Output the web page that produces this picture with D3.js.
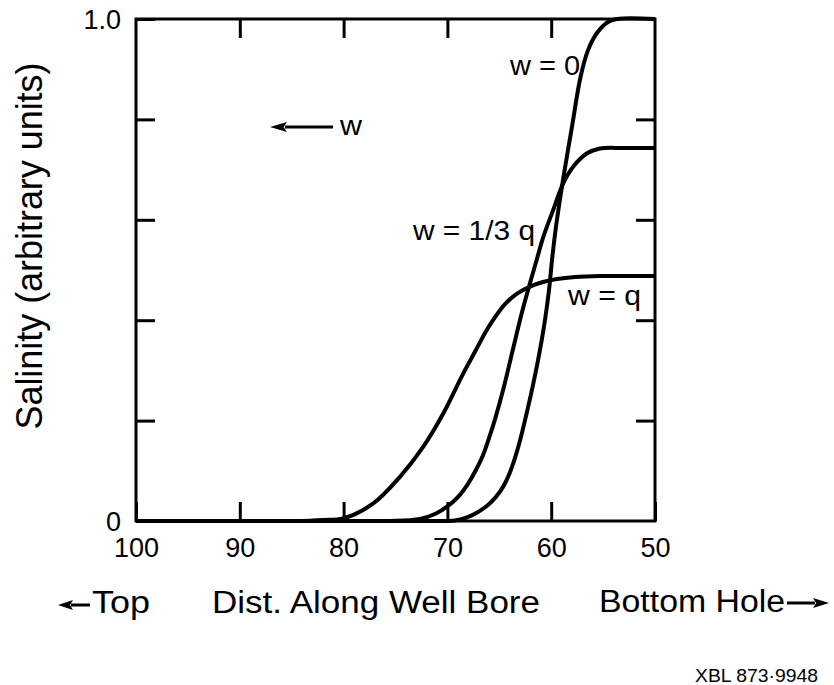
<!DOCTYPE html>
<html>
<head>
<meta charset="utf-8">
<script src="https://cdn.jsdelivr.net/npm/d3@7"></script>
<style>
    body { margin: 0; background: #fff; }
    svg text { font-family: "Liberation Sans", Arial, Helvetica, sans-serif; fill: #000; }
</style>
</head>
<body>
<div id="chart"></div>
<script>
//Datos: distancia a lo largo del pozo y salinidad
const distW0 = [100, 80, 73, 70.04, 69.27, 68.11, 67.05, 66.09, 65.32, 64.64, 64.07, 63.58, 63.1, 62.52, 61.72, 61.08, 60.6, 60.21, 59.92, 59.54, 58.82, 58.0, 57.18, 56.45, 55.59, 54.53, 53.66, 50];
const salW0 = [0, 0, 0, 0, 0.001, 0.007, 0.018, 0.032, 0.048, 0.068, 0.092, 0.12, 0.153, 0.201, 0.274, 0.341, 0.4, 0.46, 0.52, 0.586, 0.685, 0.785, 0.884, 0.938, 0.972, 0.994, 1.0, 1.0];

const distW13 = [100, 82, 77.5, 75.53, 72.64, 71.1, 69.94, 68.88, 68.02, 67.24, 66.57, 65.99, 65.41, 64.61, 63.65, 62.84, 62.04, 61.4, 60.76, 59.8, 58.83, 57.87, 56.58, 55.3, 53, 50];
const salW13 = [0, 0, 0, 0, 0.004, 0.015, 0.03, 0.05, 0.074, 0.102, 0.131, 0.165, 0.203, 0.263, 0.345, 0.414, 0.474, 0.52, 0.566, 0.62, 0.673, 0.706, 0.732, 0.742, 0.743, 0.743];

const distWq = [100, 88, 84.2, 82, 80.03, 77.14, 74.57, 72.32, 70.4, 68.47, 67.24, 66.28, 65.41, 64.45, 63.29, 62.04, 60.79, 59.44, 57.7, 55.3, 50];
const salWq = [0, 0, 0, 0.002, 0.005, 0.035, 0.088, 0.148, 0.214, 0.294, 0.341, 0.378, 0.406, 0.432, 0.453, 0.467, 0.476, 0.482, 0.486, 0.488, 0.488];

const xTicks = [100, 90, 80, 70, 60, 50];
const xTopTicks = [90, 80, 70, 60];
const yTicks = [0, 0.2, 0.4, 0.6, 0.8, 1];
const yTickLabels = ['0', '', '', '', '', '1.0'];
const yRightTicks = [0.2, 0.4, 0.6, 0.8];

const FONT = '"Liberation Sans", Arial, Helvetica, sans-serif';

let margin = {top: 19, right: 179, bottom: 164, left: 136},
    width = 834 - margin.left - margin.right,
    height = 685 - margin.top - margin.bottom;

let root = d3.select('#chart')
    .append('svg')
    .attr('width', 834)
    .attr('height', 685);

root.append('rect').attr('width', 834).attr('height', 685).attr('fill', '#fff');

let svg = root.append('g')
    .attr('transform', 'translate(' + margin.left + ',' + margin.top + ')');

let x = d3.scaleLinear().domain([100, 50]).range([0, width]);
let y = d3.scaleLinear().domain([0, 1]).range([height, 0]);

//Ejes (marcas hacia dentro)
function styleAxis(g) {
    g.select('.domain').remove();
    g.selectAll('.tick line').attr('stroke-width', 3);
    g.attr('font-size', 27).attr('font-family', FONT);
}

svg.append('g')
    .attr('transform', 'translate(0,' + height + ')')
    .call(d3.axisBottom(x).tickValues(xTicks).tickSize(-19).tickPadding(17).tickFormat(d3.format('d')))
    .call(styleAxis);

svg.append('g')
    .call(d3.axisLeft(y).tickValues(yTicks).tickSize(-19).tickPadding(15)
        .tickFormat(function(d, i) { return yTickLabels[i]; }))
    .call(styleAxis)
    .call(function(g) { g.selectAll('.tick text').attr('dy', '0.36em'); });

svg.append('g')
    .call(d3.axisTop(x).tickValues(xTopTicks).tickSize(-19).tickFormat(''))
    .call(styleAxis);

svg.append('g')
    .attr('transform', 'translate(' + width + ',0)')
    .call(d3.axisRight(y).tickValues(yRightTicks).tickSize(-19).tickFormat(''))
    .call(styleAxis);

//Marco
svg.append('rect')
    .attr('x', 0).attr('y', 0)
    .attr('width', width).attr('height', height)
    .attr('fill', 'none')
    .attr('stroke', '#000')
    .attr('stroke-width', 3);

//Curvas
let series = [
    {dist: distW0, sal: salW0},
    {dist: distW13, sal: salW13},
    {dist: distWq, sal: salWq}
];

let line = d3.line()
    .x(function(d) { return x(d[0]); })
    .y(function(d) { return y(d[1]); })
    .curve(d3.curveCatmullRom.alpha(0.5));

series.forEach(function(s) {
    let pts = s.dist.map(function(d, i) { return [d, s.sal[i]]; });
    svg.append('path')
        .datum(pts)
        .attr('d', line)
        .attr('fill', 'none')
        .attr('stroke', '#000')
        .attr('stroke-width', 4)
        .attr('stroke-linejoin', 'round');
});

//Etiquetas de las curvas
function label(text, tx, ty, len, size) {
    root.append('text')
        .attr('x', tx).attr('y', ty)
        .attr('font-size', size)
        .attr('textLength', len)
        .attr('lengthAdjust', 'spacingAndGlyphs')
        .text(text);
}

label('w = 0', 510, 75, 70, 28);
label('w = 1/3 q', 413, 240, 122, 28);
label('w = q', 568, 305, 73, 28);
label('w', 340, 135, 22, 28);

//Flechas
function arrow(x1, x2, yy, headLen, halfH) {
    //x1 = punta, x2 = cola
    let dir = x2 > x1 ? 1 : -1;
    root.append('line')
        .attr('x1', x1 + dir * (headLen - 2)).attr('x2', x2)
        .attr('y1', yy).attr('y2', yy)
        .attr('stroke', '#000').attr('stroke-width', 3);
    root.append('path')
        .attr('d', 'M' + x1 + ',' + yy +
            'L' + (x1 + dir * headLen) + ',' + (yy - halfH) +
            'L' + (x1 + dir * headLen * 0.8) + ',' + yy +
            'L' + (x1 + dir * headLen) + ',' + (yy + halfH) + 'Z')
        .attr('fill', '#000');
}

arrow(270, 333, 127, 17, 5);
arrow(58, 90, 605, 15, 5);
arrow(829, 787, 603, 16, 5);

//Títulos de los ejes
label('Top', 92, 613, 58, 31);
label('Dist. Along Well Bore', 212, 613, 328, 31);
label('Bottom Hole', 599, 612, 186, 31);

root.append('text')
    .attr('transform', 'translate(42,246) rotate(-90)')
    .attr('text-anchor', 'middle')
    .attr('font-size', 36)
    .attr('textLength', 367)
    .attr('lengthAdjust', 'spacingAndGlyphs')
    .text('Salinity (arbitrary units)');

label('XBL 873\u00B79948', 695, 682, 123, 19);
</script>
</body>
</html>
